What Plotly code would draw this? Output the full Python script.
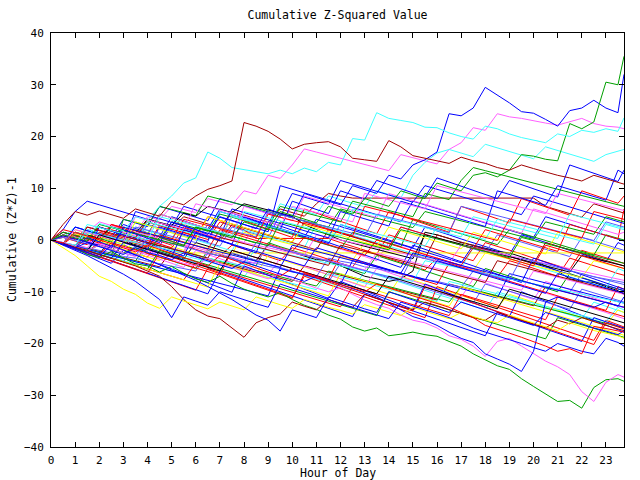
import plotly.graph_objects as go

# ---------------- data (values read/estimated from the reference) ----------------
TITLE = "Cumulative Z-Squared Value"
X_LABEL = "Hour of Day"
Y_LABEL = "Cumulative (Z*Z)-1"
X_TICKS = list(range(24))
Y_TICKS = [-40, -30, -20, -10, 0, 10, 20, 30, 40]

RED, GREEN, BLUE, MAGENTA, CYAN = "#ff0000", "#00a000", "#0000ff", "#ff60ff", "#40ffff"
YELLOW, BLACK, DARKRED, MBLUE = "#ffff00", "#000000", "#a00000", "#5a5aff"

# every series: half-hour samples from 0:00 to 23:30 plus final 23:45
blue_top = [0,-0.8,-1.5,0.5,-0.3,-1.2,2.0,1.2,0.4,-0.5,3.5,2.8,
            2.0,1.1,4.5,3.8,3.0,2.2,6.0,5.1,4.5,9.0,8.2,7.5,
            6.8,10.5,9.8,9.0,12.5,11.8,14.5,15.5,17.0,24.4,24.0,25.5,
            29.5,28.0,26.5,24.8,24.5,23.3,22.0,25.0,25.5,27.0,25.5,24.6,32.0]
green_top = [0,-0.7,-1.4,-2.0,-1.0,-1.8,-2.5,-1.5,-2.2,0.5,-0.3,-1.0,
             2.5,1.8,1.0,0.4,3.5,2.8,2.0,5.5,4.8,4.0,3.3,6.5,
             5.8,5.0,8.0,7.2,6.5,9.5,8.8,8.0,11.0,10.3,9.5,12.5,
             13.0,12.2,13.5,16.5,16.2,15.6,15.3,22.5,21.5,22.8,30.5,30.0,35.5]
cyan_top = [0,-0.6,1.5,0.8,3.2,2.5,1.8,4.5,3.8,6.5,8.5,11.0,
            12.0,17.0,15.8,14.0,13.6,13.2,12.8,13.5,12.8,13.9,13.2,15.0,
            14.5,19.6,19.3,24.6,23.5,23.1,22.7,21.8,21.7,20.7,20.0,19.5,
            22.0,21.5,20.5,19.8,19.3,18.8,20.5,20.0,21.2,20.8,21.5,21.0,23.6]
darkred_top = [0,3.0,5.5,4.8,5.6,4.9,4.2,6.0,5.3,4.6,7.5,6.8,
               8.5,9.8,10.5,11.4,22.7,22.0,21.0,19.5,17.6,18.5,18.8,19.0,
               18.0,15.8,15.5,15.2,19.2,18.0,16.3,15.8,15.3,14.8,16.0,15.3,
               14.8,14.0,13.5,14.5,13.8,13.1,12.5,12.0,11.4,12.5,11.8,11.2,10.8]
green_low = [0,-0.7,-1.5,-2.8,-3.4,-2.2,-3.5,-4.6,-5.0,-6.2,-5.1,-6.4,
             -7.5,-8.2,-7.0,-8.4,-9.5,-10.3,-11.0,-10.2,-11.5,-12.6,-13.4,-14.5,
             -15.3,-16.8,-17.6,-17.0,-18.5,-18.2,-17.8,-18.3,-18.6,-19.6,-20.5,-22.0,
             -23.2,-24.3,-25.0,-26.8,-28.3,-29.8,-31.2,-31.0,-32.5,-28.5,-27.0,-26.8,-27.3]
magenta_low = [0,-0.5,-1.3,-2.0,-1.0,-1.8,-2.5,-3.2,-2.0,-3.0,-3.8,-4.5,
               -5.0,-3.5,-4.5,-5.3,-6.0,-6.8,-7.5,-6.5,-7.6,-8.5,-9.3,-10.0,
               -9.2,-10.5,-11.6,-12.5,-13.2,-14.5,-15.5,-16.0,-17.0,-18.5,-19.2,-20.5,
               -22.5,-19.6,-19.0,-20.5,-22.0,-23.4,-24.5,-26.0,-29.3,-31.2,-27.5,-26.0,-26.5]
blue_low = [0,-0.8,-1.5,-0.5,-1.3,-2.0,-2.8,-1.5,-2.4,-3.0,-3.8,-2.5,
            -3.3,-4.0,-4.8,-5.5,-4.2,-5.0,-5.8,-6.6,-7.2,-8.0,-7.0,-7.8,
            -8.6,-9.5,-10.3,-11.0,-12.2,-13.5,-14.8,-15.5,-16.5,-17.8,-19.0,-19.8,
            -22.0,-23.0,-24.0,-25.4,-21.5,-12.0,-11.0,-11.8,-12.4,-13.0,-12.0,-12.8,-11.0]
darkred_low = [0,-0.6,-1.4,-2.0,-2.8,-3.5,-4.3,-5.0,-6.0,-7.0,-9.0,-11.5,
               -13.5,-14.7,-15.2,-17.0,-18.8,-16.0,-15.0,-14.3,-12.0,-12.8,-13.5,-11.5,
               -12.2,-13.0,-10.5,-11.3,-12.0,-12.8,-13.5,-12.0,-12.7,-13.5,-14.2,-15.0,
               -15.5,-14.0,-14.8,-15.5,-16.3,-17.0,-15.5,-16.2,-15.0,-15.8,-16.5,-17.2,-17.5]
yellow_low = [0,-1.5,-3.0,-5.0,-7.0,-8.0,-9.5,-10.5,-12.2,-13.2,-11.0,-11.8,
              -12.5,-13.3,-12.0,-12.8,-13.5,-11.0,-11.8,-12.5,-13.2,-11.5,-12.2,-13.0,
              -13.6,-14.3,-12.5,-13.2,-14.0,-14.6,-13.0,-13.8,-14.5,-15.2,-14.0,-14.8,
              -15.5,-16.0,-14.5,-15.3,-16.0,-16.8,-17.5,-16.0,-16.8,-17.5,-18.0,-18.5,-19.0]
blue_low2 = [0,-1.0,-2.0,-3.0,-4.2,-5.4,-6.6,-8.0,-9.8,-11.5,-15.0,-11.0,
             -11.8,-12.6,-10.0,-10.8,-11.5,-12.3,-13.0,-8.5,-9.3,-10.0,-10.8,-11.5,
             -12.3,-13.0,-13.8,-14.5,-15.2,-12.0,-12.8,-13.5,-14.2,-15.0,-16.0,-17.0,
             -17.8,-18.5,-19.3,-20.0,-20.8,-21.5,-20.0,-20.8,-21.5,-22.0,-19.0,-19.8,-20.5]
blue_low3 = [0,-0.7,-1.6,-2.4,-3.2,-1.0,-1.9,-2.8,-3.8,-4.8,-5.8,-6.8,
             -7.8,-9.0,-10.2,-11.5,-13.0,-14.5,-15.5,-17.6,-13.5,-14.2,-15.0,-11.0,
             -11.8,-12.5,-13.3,-14.0,-10.0,-10.8,-11.6,-12.4,-13.2,-14.0,-12.0,-12.8,
             -13.5,-14.3,-15.0,-15.8,-16.5,-14.0,-14.8,-15.5,-16.2,-17.0,-17.6,-18.3,-17.5]
red_low = [0,-0.6,1.5,0.8,0.1,-0.7,-1.5,-2.3,-1.0,-1.8,-2.6,-3.4,
           -4.2,-5.0,-3.0,-3.8,-4.6,-5.4,-6.2,-7.0,-5.5,-6.3,-7.1,-7.9,
           -8.6,-9.3,-10.0,-8.5,-9.2,-10.0,-10.8,-11.5,-12.3,-13.0,-14.0,-15.0,
           -16.5,-17.2,-18.0,-18.8,-19.6,-20.5,-21.5,-21.0,-22.0,-16.7,-17.1,-17.6,-17.8]

f01 = [0,-0.8,-1.5,-2.2,-0.5,-1.2,-2.0,-2.6,-3.3,0.5,-0.3,-1.0,
       -1.8,-2.5,-3.1,-1.0,-1.7,-2.5,-3.2,-4.0,-1.5,-2.2,-3.0,-3.8,
       -4.5,-5.2,-2.0,-2.8,-3.6,-4.3,-5.0,-5.8,-3.5,-4.2,-5.0,-5.7,
       -6.4,-7.2,-4.0,-4.7,-5.5,-6.2,-7.0,-3.5,-4.2,-5.0,-5.7,-6.5,-6.8]
f02 = [0,1.5,0.8,0.1,2.5,1.8,1.0,0.3,-0.4,-1.2,3.0,2.3,
       1.5,0.8,0.0,-0.8,4.5,3.7,3.0,2.2,1.5,0.7,0.0,-0.7,
       3.0,2.2,1.5,0.8,0.0,-0.8,-1.5,2.5,1.8,1.0,0.2,-0.5,
       -1.2,-2.0,-2.8,1.0,0.3,-0.5,-1.2,-2.0,-2.7,-3.5,-4.2,-0.5,-1.0]
f03 = [0,-0.6,-1.3,-2.0,-2.8,-3.5,-1.0,-1.8,-2.5,-3.3,-4.0,-4.7,
       -5.5,-2.0,-2.8,-3.5,-4.3,-5.0,-0.5,-1.3,-2.0,-2.8,-3.5,-4.2,
       -5.0,-5.8,-6.5,-3.0,-3.8,-4.5,-5.2,-6.0,-6.8,-7.5,-8.2,-9.0,
       -5.5,-6.2,-7.0,-7.8,-8.5,-9.2,-10.0,-6.5,-7.2,-8.0,-8.8,-9.5,-9.8]
f04 = [0,-0.7,0.8,0.1,-0.6,-1.3,1.5,0.8,0.0,-0.7,-1.5,-2.2,
       2.5,1.8,1.0,0.3,-0.5,3.5,2.8,2.0,1.2,0.5,-0.3,-1.0,
       -1.8,-2.5,-3.2,-4.0,-0.5,-1.3,-2.0,-2.8,-3.5,-4.3,-5.0,-5.8,
       -6.5,-7.2,-8.0,-8.7,-9.5,-10.2,-11.0,-11.8,-12.5,-13.2,-14.0,-14.8,-15.2]
f05 = [0,-0.5,-1.2,-1.9,-2.6,-3.3,-4.0,-4.7,-1.5,-2.2,-3.0,-3.7,
       -4.4,-5.1,-5.8,-6.5,-7.2,-4.0,-4.7,-5.4,-6.1,-6.8,-7.5,-8.2,
       -9.0,-9.7,-6.0,-6.8,-7.5,-8.2,-9.0,-9.7,-10.5,-11.2,-12.0,-12.7,
       -13.5,-10.0,-10.7,-11.5,-12.2,-13.0,-13.7,-14.5,-15.2,-12.0,-12.8,-13.5,-14.0]
f06 = [0,-0.8,-1.6,0.5,-0.2,-1.0,-1.8,-2.6,-3.3,-4.0,-1.2,-2.0,
       -2.8,-3.5,-4.2,-5.0,-5.8,-6.5,-3.0,-3.8,-4.5,-5.2,-6.0,-6.8,
       -7.5,-8.2,-9.0,-9.8,-10.5,-7.0,-7.8,-8.5,-9.2,-10.0,-10.8,-11.5,
       -12.2,-13.0,-10.5,-11.2,-12.0,-12.8,-13.5,-14.2,-15.0,-15.8,-16.5,-13.5,-14.0]
f07 = [0,-0.6,-1.2,2.0,1.3,0.6,-0.1,-0.8,3.0,2.3,1.6,0.9,
       0.2,-0.5,-1.2,2.5,1.8,1.1,0.4,5.0,4.3,3.6,2.9,2.2,
       1.5,0.8,0.1,-0.6,-1.3,2.5,1.8,1.1,0.4,-0.3,-1.0,-1.7,
       -2.4,1.0,0.3,-0.4,-1.1,-1.8,-2.5,-3.2,0.5,-0.2,-0.9,-1.6,-2.0]
f08 = [0,-0.5,-1.0,-1.6,-2.2,-2.8,-3.4,-4.0,-4.6,-5.2,-2.0,-2.6,
       -3.2,-3.8,-4.4,-5.0,-5.6,-6.2,-6.8,-7.4,-8.0,-5.0,-5.6,-6.2,
       -6.8,-7.4,-8.0,-8.6,-9.2,-9.8,-10.4,-11.0,-11.6,-8.5,-9.1,-9.7,
       -10.3,-10.9,-11.5,-12.1,-12.7,-9.0,-9.6,-10.2,-10.8,-11.4,-12.0,-12.6,-13.0]
f09 = [0,-0.7,-1.4,-2.1,-2.8,0.5,-0.2,-0.9,-1.6,-2.3,-3.0,-3.7,
       -0.5,-1.2,-1.9,-2.6,-3.3,-4.0,-1.0,-1.7,-2.4,-3.1,-3.8,-3.9,
       -5.0,-6.0,-7.0,-7.5,-8.0,-7.5,-6.0,1.5,1.0,0.3,-0.5,-1.0,
       -1.6,-2.2,-2.5,-3.2,-4.0,-5.0,-6.0,-7.5,-8.0,-8.2,-9.0,-9.8,-10.5]
f10 = [0,1.0,0.3,-0.4,-1.1,2.0,1.3,0.6,-0.1,-0.8,-1.5,1.5,
       0.8,0.1,3.5,2.8,2.0,0.3,0.3,0.3,0.3,0.3,0.3,0.3,
       -0.5,-1.2,-2.0,-2.7,1.0,0.3,-0.4,-1.1,-1.8,-2.5,-3.2,-4.0,
       -0.5,-1.2,-2.0,-2.7,-3.5,-4.2,-5.0,-5.7,-2.0,-2.7,-3.4,-4.1,-4.5]
f11 = [0,1.5,0.8,0.2,2.5,1.8,1.2,0.5,3.5,2.8,2.1,4.5,
       3.8,3.1,2.4,5.5,4.8,4.1,3.4,6.0,5.3,4.6,7.0,9.0,
       8.5,8.1,8.1,8.1,8.1,8.1,8.1,8.1,8.1,8.1,8.1,8.1,
       8.1,8.1,8.1,8.1,8.1,6.5,5.8,5.1,4.4,7.0,6.3,5.6,5.2]
f12 = [0,-0.8,-1.5,0.5,-0.3,-1.0,-1.8,-0.5,-1.3,-2.0,-2.5,-2.5,
       -2.5,-2.5,-2.5,-2.5,-2.5,-2.5,-2.5,-2.5,-2.5,-2.5,-2.5,-2.5,
       -2.5,-2.5,-2.5,-2.5,-2.5,-2.5,-2.5,-2.5,-2.5,-2.5,-2.5,-2.5,
       -2.5,-2.5,-2.5,-2.5,-2.5,-2.5,-2.5,-2.5,-2.5,-2.5,-2.5,-2.5,-2.5]
f13 = [0,-0.7,-1.4,-2.1,1.0,0.3,-0.4,-1.1,-1.8,2.5,1.8,1.1,
       0.4,-0.3,5.5,4.8,4.1,3.4,2.7,2.0,1.3,0.6,4.0,3.3,
       2.6,1.9,1.2,0.5,-0.2,-0.9,-1.6,-2.3,-3.0,-3.7,-4.4,-1.0,
       -1.7,-2.4,-3.1,-3.8,-4.5,-5.2,-5.9,-6.6,-7.3,-8.0,-8.7,-9.4,-9.8]
f14 = [0,2.0,5.5,7.5,6.8,6.1,5.4,4.7,4.0,3.3,2.6,6.5,
       5.8,5.1,4.4,3.7,3.0,2.3,1.6,10.5,9.8,9.1,8.4,7.7,
       7.0,6.3,5.6,4.9,4.2,3.5,7.5,6.8,6.1,5.4,4.7,4.0,
       3.3,2.6,1.9,1.2,0.5,4.5,3.8,3.1,2.4,1.7,1.0,0.3,-0.2]
f15 = [0,-0.5,-1.1,-1.7,-2.3,-2.9,-3.5,-4.1,-0.5,-1.1,-1.7,-2.3,
       -2.9,-3.5,-4.1,-4.7,-5.3,-5.9,-6.5,-7.1,-7.7,-8.3,-8.9,-6.0,
       -6.6,-7.2,-7.8,-8.4,-9.0,-9.6,-10.2,-10.8,-11.4,-12.0,-9.0,-9.6,
       -10.2,-10.8,-11.4,-12.0,-12.6,-13.2,-13.8,-14.4,-15.0,-15.6,-16.2,-16.8,-17.0]
f16 = [0,-0.9,-1.7,-2.5,-3.3,-4.1,-4.9,-5.7,-6.5,-7.3,-8.1,-8.9,
       -9.7,-5.5,-6.3,-7.1,-7.9,-8.7,-9.5,-10.3,-11.1,-7.0,-7.8,-8.6,
       -9.4,-10.2,-11.0,-11.8,-12.6,-13.4,-14.2,-15.0,-9.0,-9.8,-10.6,-11.4,
       -12.2,-13.0,-13.8,-14.6,-15.4,-16.2,-17.0,-17.8,-18.6,-19.4,-15.5,-16.3,-16.8]
f17 = [0,0.5,2.5,1.8,1.1,0.4,-0.3,3.5,2.8,2.1,1.4,0.7,
       0.0,-0.7,-1.4,-2.1,2.0,1.3,0.6,-0.1,-0.8,-1.5,3.0,2.3,
       1.6,0.9,0.2,-0.5,-1.2,-1.9,-2.6,-3.3,-4.0,-4.7,-5.4,-1.5,
       -2.2,-2.9,-3.6,-4.3,-5.0,-5.7,-6.4,-7.1,-7.8,-8.5,-9.2,-5.5,-6.0]
f18 = [0,-0.6,-1.2,1.5,0.9,3.0,2.4,1.8,4.5,3.9,6.5,5.9,
       5.3,8.0,7.4,6.8,9.5,8.9,12.5,11.9,14.5,17.6,17.0,16.4,
       15.8,15.2,14.6,14.0,13.4,16.5,15.9,15.3,14.7,17.5,18.8,21.7,
       21.2,24.4,23.8,23.5,23.0,22.6,22.2,22.8,23.5,22.5,22.0,21.8,21.5]
f19 = [0,-0.7,-1.4,-2.1,0.5,-0.2,-0.9,2.5,1.8,1.1,0.4,3.5,
       2.8,2.1,5.5,4.8,4.1,3.4,2.7,7.0,6.3,5.6,4.9,8.5,
       7.8,7.1,6.4,9.5,8.8,8.1,12.5,15.0,16.8,17.5,16.8,16.1,
       18.5,17.8,17.1,16.4,15.7,18.0,17.3,16.6,15.9,15.2,16.5,17.2,17.5]
f20 = [0,-0.8,-1.6,1.5,0.7,-0.1,3.0,2.2,1.4,0.6,4.5,3.7,
       2.9,2.1,6.0,5.2,4.4,3.6,2.8,2.0,7.5,6.7,5.9,5.1,
       9.5,8.7,7.9,11.5,10.7,9.9,9.1,8.3,12.0,11.2,10.4,9.6,
       8.8,8.0,11.5,10.7,9.9,9.1,8.3,14.5,13.7,12.9,12.1,11.3,13.5]
f21 = [0,-0.6,-1.3,1.0,0.3,-0.4,2.5,1.8,1.1,5.0,4.3,3.6,
       2.9,2.2,1.5,0.8,0.1,-0.6,2.5,1.8,1.1,0.4,-0.3,-1.0,
       -1.7,1.5,0.8,0.1,-0.6,-1.3,4.0,3.3,2.6,1.9,1.2,0.5,
       -0.2,-0.9,2.0,1.3,0.6,-0.1,-0.8,-1.5,-2.2,-2.9,1.0,0.3,0.0]
f22 = [0,-0.8,-1.6,-2.4,-3.2,-0.5,-1.3,-2.1,-2.9,-3.7,-4.5,-5.3,
       -2.0,-2.8,-3.6,-4.4,-5.2,-6.0,-6.8,-3.5,-4.3,-5.1,-5.9,-6.7,
       -7.5,-8.3,-9.1,-5.5,-6.3,-7.1,-7.9,-8.7,-9.5,-10.3,-11.1,-7.5,
       -8.3,-9.1,-9.9,-10.7,-11.5,-8.0,-8.8,-9.6,-10.4,-11.2,-12.0,-12.8,-13.0]
f23 = [0,0.8,0.1,2.5,1.8,1.1,0.4,-0.3,-1.0,2.8,2.1,1.4,
       0.7,4.5,3.8,3.1,2.4,1.7,1.0,0.3,-0.4,3.5,2.8,2.1,
       1.4,0.7,0.0,-0.7,-1.4,2.5,1.8,1.1,0.4,-0.3,-1.0,-1.7,
       2.0,1.3,0.6,-0.1,-0.8,-1.5,-2.2,3.0,2.3,1.6,0.9,0.2,6.0]
f24 = [0,-0.9,-1.8,-2.7,-3.6,-4.5,-2.0,-2.9,-3.8,-4.7,-5.6,-6.5,
       -7.4,-8.3,-9.2,-10.1,-5.0,-5.9,-6.8,-7.7,-8.6,-9.5,-10.4,-11.3,
       -8.0,-8.9,-9.8,-10.7,-11.6,-12.5,-13.4,-8.5,-9.4,-10.3,-11.2,-12.1,
       -13.0,-13.9,-14.8,-10.0,-10.9,-11.8,-12.7,-13.6,-14.5,-15.4,-16.3,-17.2,-17.8]
f25 = [0,-0.5,-1.1,-1.5,-2.1,-2.5,-3.2,-3.5,-4.1,-4.6,-5.0,-5.6,
       -6.0,-2.5,-3.1,-3.5,-4.2,-4.5,-5.1,-5.5,-6.2,-6.5,-7.1,-3.5,
       -4.1,-4.5,-5.2,-5.5,-6.1,-6.6,-7.0,-7.6,-8.0,-8.5,-9.1,-6.0,
       -6.6,-7.0,-7.5,-8.1,-8.5,-9.2,-9.5,-10.1,-6.5,-7.1,-7.5,-8.0,-8.2]
f26 = [0,-0.6,1.2,0.6,0.0,-0.6,-1.2,2.0,1.4,0.8,0.2,-0.4,
       -1.0,-1.6,-2.2,-2.8,1.5,0.9,0.3,-0.3,-0.9,-1.5,-2.1,-2.7,
       -3.3,-3.9,-0.5,-1.1,-1.7,-2.3,-2.9,-3.5,-4.1,-4.7,-5.3,-5.9,
       -2.5,-3.1,-3.7,-4.3,-4.9,-5.5,-6.1,-6.7,-7.3,-4.0,-4.6,-5.2,-5.5]
f27 = [0,1.0,0.3,-0.4,2.5,1.8,1.1,0.4,4.0,3.3,2.6,1.9,
       1.2,0.5,-0.2,3.0,2.3,1.6,0.9,0.2,-0.5,-1.2,-1.9,2.0,
       1.3,0.6,-0.1,-0.8,-1.5,-2.2,-2.9,-3.6,1.0,0.3,-0.4,-1.1,
       -1.8,-2.5,-3.2,-3.9,-4.6,-0.5,-1.2,-1.9,-2.6,-3.3,-4.0,-4.7,-5.0]
f28 = [0,-0.7,2.5,1.8,1.1,0.4,4.0,3.3,2.6,6.5,5.8,5.1,
       4.4,3.7,8.0,7.3,6.6,5.9,5.2,4.5,9.0,8.3,7.6,6.9,
       11.5,10.8,10.1,9.4,8.7,8.0,7.3,10.5,9.8,9.1,8.4,7.7,
       7.0,6.3,5.6,4.9,8.5,7.8,7.1,6.4,5.7,5.0,4.3,3.6,3.2]
f29 = [0,-0.6,-1.2,-1.8,-2.4,-3.0,4.0,3.4,2.8,6.5,5.9,5.3,
       4.7,8.5,7.9,7.3,6.7,6.1,5.5,4.9,4.3,3.7,3.1,2.5,
       6.0,5.4,4.8,4.2,3.6,3.0,2.4,5.5,4.9,4.3,3.7,3.1,
       2.5,1.9,1.3,0.7,0.1,3.5,2.9,2.3,1.7,1.1,4.5,3.9,3.5]
f30 = [0,-0.7,-1.4,1.5,3.5,2.8,2.1,1.4,0.7,5.0,4.3,3.6,
       2.9,2.2,1.5,0.8,6.5,5.8,5.1,4.4,3.7,8.5,7.8,7.1,
       6.4,5.7,5.0,4.3,9.0,8.3,7.6,6.9,6.2,5.5,4.8,4.1,
       3.4,2.7,2.0,1.3,6.0,5.3,4.6,3.9,3.2,2.5,1.8,1.1,1.5]
f31 = [0,-0.6,-1.2,-1.8,-2.4,-3.0,-3.6,-4.2,-4.8,-5.4,-6.0,-3.0,
       -3.6,-4.2,-4.8,-5.4,-6.0,-6.6,-7.2,-7.8,-8.4,-9.0,-9.6,-6.5,
       -7.1,-7.7,-8.3,-8.9,-9.5,-10.1,-10.7,-11.3,-11.9,-8.0,-8.6,-9.2,
       -9.8,-10.4,-11.0,-11.6,-12.2,-12.8,-13.4,-14.0,-14.6,-15.2,-15.8,-13.0,-13.5]
f32 = [0,-0.8,1.0,0.2,-0.6,3.0,2.2,1.4,0.6,-0.2,-1.0,2.5,
       1.7,0.9,0.1,4.5,3.7,2.9,2.1,1.3,0.5,6.0,5.2,4.4,
       3.6,2.8,2.0,1.2,5.5,4.7,3.9,3.1,2.3,1.5,6.5,5.7,
       4.9,4.1,3.3,8.0,7.2,6.4,5.6,4.8,9.5,8.7,7.9,7.1,8.5]
f33 = [0,-0.6,1.5,0.9,0.3,2.5,1.9,1.3,4.0,3.4,2.8,5.2,
       4.6,6.5,5.9,5.3,7.0,6.4,5.8,5.2,4.6,3.0,2.0,1.0,
       0.0,-0.6,-1.2,-1.8,-2.4,-3.0,-3.6,1.0,0.4,-0.2,-0.8,-1.4,
       -2.0,-2.6,-3.2,-3.8,-4.4,-5.0,-5.6,-6.2,-3.0,-3.6,-4.2,-4.8,-5.0]
f34 = [0,-0.7,-1.4,-2.1,-2.8,-3.5,-4.2,-1.0,-1.7,-2.4,-3.1,-3.8,
       -4.5,-5.2,-5.9,-2.5,-3.2,-3.9,-4.6,-5.3,-6.0,-6.7,-7.4,-8.1,
       -4.5,-5.2,-5.9,-6.6,-7.3,-8.0,-8.7,-9.4,-10.1,-10.8,-11.5,-12.2,
       -8.5,-9.2,-9.9,-10.6,-11.3,-12.0,-12.7,-13.4,-9.5,-10.2,-10.9,-11.6,-12.0]
f35 = [0,-0.8,-1.6,-2.4,-3.2,-4.0,-4.8,-5.6,-6.4,-7.2,-8.0,-8.8,
       -9.6,-10.4,-6.0,-6.8,-7.6,-8.4,-9.2,-10.0,-10.8,-11.6,-12.4,-13.2,
       -14.0,-14.8,-10.5,-11.3,-12.1,-12.9,-13.7,-14.5,-15.3,-16.1,-16.9,-17.7,
       -18.5,-14.0,-14.8,-15.6,-16.4,-17.2,-18.0,-18.8,-19.6,-15.0,-15.8,-16.6,-17.0]
f36 = [0,-0.7,-1.4,-2.1,-2.8,-0.5,-1.2,-1.9,-2.6,-3.3,-4.0,-4.7,
       -5.4,-6.1,-6.8,-2.0,-2.7,-3.4,-4.1,-4.8,-5.5,-6.2,-6.9,-7.6,
       -3.0,-3.7,-4.4,-5.1,-5.8,-6.5,-7.2,-7.9,-8.6,-4.5,-5.2,-5.9,
       -6.6,-7.3,-8.0,-8.7,-9.4,-10.1,-10.8,-11.5,-12.2,-12.9,-13.6,-9.0,-9.5]
f37 = [0,1.5,0.9,0.3,-0.3,2.5,1.9,1.3,0.7,0.1,3.5,2.9,
       2.3,1.7,5.0,4.4,3.8,3.2,2.6,6.5,5.9,5.3,4.7,4.1,
       3.5,7.5,6.9,6.3,5.7,5.1,4.5,9.0,8.4,7.8,11.5,14.0,
       13.4,12.8,12.2,11.6,11.0,10.4,9.8,9.2,8.6,8.0,7.4,6.8,6.5]
f38 = [0,-0.7,2.0,1.3,0.6,-0.1,-0.8,3.5,2.8,2.1,1.4,0.7,
       0.0,4.5,3.8,3.1,2.4,1.7,1.0,0.3,-0.4,3.0,2.3,1.6,
       0.9,0.2,-0.5,-1.2,2.5,1.8,1.1,0.4,-0.3,-1.0,-1.7,1.5,
       0.8,0.1,-0.6,-1.3,-2.0,-2.7,1.5,0.8,0.1,-0.6,-1.3,-2.0,-2.3]
f39 = [0,-0.5,-1.0,-1.5,1.0,0.5,0.0,-0.5,-1.0,-1.5,-2.0,-2.5,
       1.5,1.0,0.5,0.0,-0.5,-1.0,-1.5,-2.0,-2.5,-3.0,1.0,0.5,
       0.0,-0.5,-1.0,-1.5,-2.0,-2.5,-3.0,-3.5,-4.0,-4.5,-1.0,-1.5,
       -2.0,-2.5,-3.0,-3.5,-4.0,-4.5,-5.0,-5.5,-6.0,-6.5,-7.0,-7.5,-7.8]
f40 = [0,-0.6,-1.2,2.0,1.4,0.8,0.2,-0.4,3.5,2.9,2.3,1.7,
       1.1,0.5,-0.1,4.5,3.9,3.3,2.7,2.1,1.5,0.9,0.3,-0.3,
       3.0,2.4,1.8,1.2,0.6,0.0,-0.6,-1.2,2.5,1.9,1.3,0.7,
       0.1,4.0,3.4,2.8,2.2,1.6,1.0,0.4,-0.2,-0.8,3.0,2.4,2.0]
f41 = [0,-0.8,-1.6,-2.4,2.5,1.7,0.9,0.1,-0.7,-1.5,-2.3,-3.1,
       1.5,0.7,-0.1,-0.9,-1.7,-2.5,3.5,2.7,1.9,1.1,0.3,-0.5,
       -1.3,-2.1,-2.9,-3.7,-4.5,-5.3,-1.0,-1.8,-2.6,-3.4,-4.2,-5.0,
       -5.8,-6.6,-7.4,-8.2,-3.5,-4.3,-5.1,-5.9,-6.7,-7.5,-8.3,-9.1,-9.5]
f42 = [0,-0.7,-1.4,-2.1,-2.8,-3.5,-4.2,-4.9,-5.6,-6.3,-7.0,-7.7,
       -4.5,-5.2,-5.9,-6.6,-7.3,-8.0,-8.7,-9.4,-10.1,-10.8,-11.5,-12.2,
       -12.9,-9.0,-9.7,-10.4,-11.1,-11.8,-12.5,-13.2,-13.9,-14.6,-10.5,-11.2,
       -11.9,-12.6,-13.3,-14.0,-14.7,-15.4,-11.0,-11.7,-12.4,-13.1,-13.8,-14.5,-14.8]
f43 = [0,-0.7,2.5,1.8,1.1,0.4,-0.3,5.5,4.8,4.1,3.4,2.7,
       2.0,1.3,0.6,6.0,5.3,4.6,3.9,3.2,2.5,1.8,1.1,0.4,
       5.5,4.8,4.1,3.4,2.7,7.5,6.8,6.1,5.4,4.7,4.0,3.3,
       2.6,9.5,8.8,8.1,7.4,6.7,10.5,9.8,9.1,8.4,7.7,13.5,12.8]
f44 = [0,-0.6,-1.2,1.5,0.9,0.3,-0.3,2.5,1.9,1.3,0.7,0.1,
       -0.5,3.0,2.4,1.8,1.2,0.6,5.5,4.9,4.3,3.7,3.1,2.5,
       1.9,1.3,0.7,5.0,4.4,3.8,3.2,2.6,2.0,1.4,6.5,5.9,
       5.3,4.7,4.1,3.5,2.9,2.3,1.7,1.1,0.5,-0.1,3.5,2.9,2.5]
f45 = [0,0.5,-0.2,-0.9,1.5,0.8,0.1,-0.6,-1.3,1.0,0.3,-0.4,
       -1.1,-1.8,2.0,1.3,0.6,-0.1,-0.8,-1.5,-2.2,0.5,-0.2,-0.9,
       -1.6,-2.3,-3.0,0.0,-0.7,-1.4,-2.1,-2.8,-3.5,-4.2,-4.9,-1.5,
       -2.2,-2.9,-3.6,-4.3,-5.0,-1.0,-1.7,-2.4,-3.1,-3.8,-4.5,-5.2,-5.5]
f46 = [0,-0.6,-1.2,-1.8,-2.4,-3.0,-3.6,-4.2,-4.8,-5.4,-6.0,-6.6,
       -7.2,-7.8,-8.4,-9.0,-9.6,-10.2,-10.8,-5.5,-6.1,-6.7,-7.3,-7.9,
       -8.5,-4.0,-4.6,-5.2,-5.8,-6.4,-7.0,-7.6,-8.2,-8.8,-9.4,-10.0,
       -10.6,-11.2,-6.5,-7.1,-7.7,-8.3,-8.9,-9.5,-10.1,-10.7,-11.3,-11.9,-12.2]
f47 = [0,1.0,0.4,-0.2,-0.8,-1.4,-2.0,1.5,0.9,0.3,-0.3,-0.9,
       -1.5,-2.1,-2.7,-3.3,-3.9,-4.5,-1.0,-1.6,-2.2,-2.8,-3.4,-4.0,
       -4.6,-5.2,-5.8,-2.5,-3.1,-3.7,-4.3,-4.9,-5.5,-6.1,-6.7,-7.3,
       -7.9,-8.5,-9.1,-9.7,-6.0,-6.6,-7.2,-7.8,-8.4,-9.0,-9.6,-10.2,-10.5]
f48 = [0,-0.7,-1.4,-2.1,-2.8,-3.5,-4.2,-4.9,-5.6,-2.0,-2.7,-3.4,
       -4.1,-4.8,-5.5,-6.2,-6.9,-7.6,-8.3,-9.0,-9.7,-10.4,-11.1,-11.8,
       -12.5,-13.2,-13.9,-14.6,-10.0,-10.7,-11.4,-12.1,-12.8,-13.5,-14.2,-14.9,
       -15.6,-16.3,-17.0,-17.7,-18.4,-19.1,-15.0,-15.7,-16.4,-17.1,-17.8,-18.5,-18.8]
f49 = [0,-0.5,-1.0,1.5,1.0,0.5,0.0,-0.5,-1.0,-1.5,-2.0,-2.5,
       -3.0,-3.5,-4.0,-4.5,-5.0,-1.5,-2.0,-2.5,-3.0,-3.5,-4.0,-4.5,
       -5.0,-5.5,-6.0,-6.5,-7.0,-7.5,-8.0,-4.0,-4.5,-5.0,-5.5,-6.0,
       -6.5,-7.0,-7.5,-8.0,-8.5,-9.0,-9.5,-10.0,-10.5,-11.0,-11.5,-12.0,-12.2]
f50 = [0,-0.7,-1.4,-2.1,-2.8,-3.5,-4.2,-4.9,-5.6,-6.3,-7.0,-7.7,
       -8.4,-9.1,-4.5,-5.2,-5.9,-6.6,-7.3,-8.0,-8.7,-9.4,-10.1,-10.8,
       -6.5,-7.2,-7.9,-8.6,-9.3,-10.0,-10.7,-11.4,-12.1,-12.8,-9.0,-9.7,
       -10.4,-11.1,-11.8,-12.5,-13.2,-13.9,-14.6,-15.3,-16.0,-16.7,-17.4,-18.1,-18.4]
f51 = [0,-0.6,-1.2,2.5,1.9,1.3,0.7,0.1,-0.5,-1.1,-1.7,-2.3,
       -2.9,-3.5,0.5,-0.1,-0.7,-1.3,-1.9,-2.5,-3.1,-3.7,-4.3,-4.9,
       -1.0,-1.6,-2.2,-2.8,-3.4,-4.0,-4.6,-5.2,-5.8,-6.4,-7.0,-7.6,
       -8.2,-4.0,-4.6,-5.2,-5.8,-6.4,-7.0,-7.6,-8.2,-8.8,-9.4,-10.0,-10.3]
f52 = [0,0.5,-0.1,-0.7,-1.3,-1.9,-2.5,-3.1,0.5,-0.1,-0.7,-1.3,
       -1.9,-2.5,-3.1,-3.7,-4.3,-0.5,-1.1,-1.7,-2.3,-2.9,-3.5,-4.1,
       -4.7,-5.3,-5.9,-6.5,-7.1,-7.7,-3.0,-3.6,-4.2,-4.8,-5.4,-6.0,
       -6.6,-7.2,-7.8,-3.5,-4.1,-4.7,-5.3,-5.9,-6.5,-7.1,-7.7,-8.3,-8.6]
f53 = [0,2.0,1.4,0.8,0.2,3.0,2.4,1.8,1.2,0.6,0.0,4.0,
       3.4,2.8,2.2,1.6,1.0,0.4,5.0,4.4,3.8,3.2,2.6,2.0,
       1.4,0.8,6.5,5.9,5.3,4.7,4.1,3.5,2.9,2.3,1.7,1.1,
       0.5,-0.1,4.0,3.4,2.8,2.2,1.6,1.0,0.4,5.5,4.9,4.3,4.0]
f54 = [0,-0.7,-1.4,-2.1,-2.8,-3.5,-0.5,-1.2,-1.9,-2.6,-3.3,2.0,
       1.3,0.6,-0.1,-0.8,-1.5,-2.2,-2.9,-3.6,-4.3,-5.0,-1.5,-2.2,
       -2.9,-3.6,-4.3,-5.0,-5.7,-6.4,-7.1,-7.8,-4.0,-4.7,-5.4,-6.1,
       -6.8,-7.5,-8.2,-8.9,-9.6,-10.3,-6.5,-7.2,-7.9,-8.6,-9.3,-10.0,-10.3]
f55 = [0,0.8,0.2,-0.4,-1.0,-1.6,2.5,1.9,1.3,0.7,0.1,-0.5,
       -1.1,-1.7,-2.3,-2.9,-3.5,-4.1,-4.7,-5.3,-1.0,-1.6,-2.2,-2.8,
       -3.4,-4.0,-4.6,-5.2,-5.8,-6.4,-2.5,-3.1,-3.7,-4.3,-4.9,-5.5,
       -6.1,-6.7,-7.3,-7.9,-8.5,-9.1,-9.7,-10.3,-10.9,-11.5,-12.1,-12.7,-13.0]
f56 = [0,-0.8,-1.6,-2.4,-3.2,-4.0,-4.8,-5.6,-6.4,-2.5,-3.3,-4.1,
       -4.9,-5.7,-6.5,-7.3,-8.1,-8.9,-9.7,-10.5,-11.3,-6.5,-7.3,-8.1,
       -8.9,-9.7,-10.5,-11.3,-12.1,-12.9,-13.7,-9.0,-9.8,-10.6,-11.4,-12.2,
       -13.0,-13.8,-14.6,-15.4,-16.2,-17.0,-17.8,-18.6,-19.4,-20.2,-16.0,-16.8,-17.2]
f57 = [0,1.0,0.4,-0.2,3.0,2.4,1.8,1.2,0.6,0.0,-0.6,-1.2,
       2.5,1.9,1.3,0.7,0.1,-0.5,-1.1,3.5,2.9,2.3,1.7,1.1,
       0.5,-0.1,-0.7,-1.3,-1.9,2.0,1.4,0.8,0.2,-0.4,-1.0,-1.6,
       -2.2,-2.8,-3.4,0.5,-0.1,-0.7,-1.3,-1.9,-2.5,-3.1,-3.7,-4.3,-4.5]
f58 = [0,-0.6,2.0,1.4,0.8,0.2,-0.4,4.5,3.9,3.3,2.7,2.1,
       7.0,6.4,5.8,5.2,4.6,4.0,3.4,2.8,6.5,5.9,5.3,4.7,
       4.1,3.5,9.0,8.4,7.8,7.2,6.6,6.0,10.5,9.9,9.3,8.7,
       8.1,7.5,6.9,6.3,5.7,5.1,9.0,8.4,7.8,7.2,6.6,6.0,5.7]
f59 = [0,-0.7,-1.4,-2.1,1.0,0.3,-0.4,-1.1,-1.8,-2.5,-3.2,-3.9,
       -4.6,-5.3,-6.0,-2.0,-2.7,-3.4,-4.1,-4.8,-5.5,-6.2,-6.9,-7.6,
       -8.3,-9.0,-9.7,-10.4,-7.0,-7.7,-8.4,-9.1,-9.8,-10.5,-11.2,-11.9,
       -12.6,-13.3,-9.5,-10.2,-10.9,-11.6,-12.3,-13.0,-13.7,-14.4,-15.1,-15.8,-16.0]
f60 = [0,-0.6,-1.2,3.0,2.4,1.8,1.2,0.6,0.0,4.5,3.9,3.3,
       2.7,2.1,1.5,0.9,5.5,4.9,4.3,3.7,3.1,2.5,1.9,1.3,
       0.7,6.0,5.4,4.8,4.2,3.6,3.0,2.4,1.8,1.2,0.6,4.5,
       3.9,3.3,2.7,2.1,1.5,0.9,0.3,5.0,4.4,3.8,3.2,2.6,2.3]

SERIES = [
    (f01, RED), (f02, BLUE), (f03, GREEN), (f04, MAGENTA), (f05, CYAN), (f06, YELLOW),
    (f07, MBLUE), (f08, DARKRED), (f09, BLACK), (f10, RED), (f11, DARKRED), (f12, YELLOW),
    (f13, BLUE), (f14, BLUE), (f15, GREEN), (f16, RED), (f17, CYAN), (f18, MAGENTA),
    (f19, CYAN), (f20, BLUE), (f21, GREEN), (f22, MAGENTA), (f23, RED), (f24, BLUE),
    (f25, MBLUE), (f26, YELLOW), (f27, DARKRED), (f28, BLUE), (f29, GREEN), (f30, MAGENTA),
    (f31, CYAN), (f32, RED), (f33, BLACK), (f34, MBLUE), (f35, BLUE), (f36, RED),
    (f37, GREEN), (f38, YELLOW), (f39, MAGENTA), (f40, CYAN), (f41, BLUE), (f42, RED),
    (f43, BLUE), (f44, MBLUE), (f45, RED), (f46, BLUE), (f47, MAGENTA), (f48, GREEN),
    (f49, CYAN), (f50, YELLOW), (f51, DARKRED), (f52, MBLUE), (f53, RED), (f54, BLUE),
    (f55, BLUE), (f56, RED), (f57, GREEN), (f58, MAGENTA), (f59, BLACK), (f60, CYAN),
    (blue_top, BLUE), (green_top, GREEN), (cyan_top, CYAN), (darkred_top, DARKRED),
    (green_low, GREEN), (magenta_low, MAGENTA), (blue_low, BLUE), (darkred_low, DARKRED),
    (yellow_low, YELLOW), (blue_low2, BLUE), (blue_low3, BLUE), (red_low, RED),
]

# ---------------- figure ----------------
FONT = "DejaVu Sans Mono"
fig = go.Figure()
for vals, col in SERIES:
    xs = [min(0.5 * i, 23.75) for i in range(len(vals))]
    fig.add_trace(go.Scatter(x=xs, y=vals, mode="lines",
                             line=dict(color=col, width=1), hoverinfo="skip"))

axis_common = dict(showgrid=False, zeroline=False, showline=True, linecolor="black",
                   linewidth=1, mirror="allticks", ticks="inside", ticklen=5,
                   tickcolor="black", tickwidth=1,
                   tickfont=dict(family=FONT, size=11, color="black"))
fig.update_xaxes(range=[0, 23.75], tickvals=X_TICKS, ticklabelstandoff=3, **axis_common)
fig.update_yaxes(range=[-40, 40], tickvals=Y_TICKS, ticklabelstandoff=4, **axis_common)

fig.update_layout(
    width=640, height=480,
    margin=dict(l=51, r=16, t=33, b=33),
    paper_bgcolor="white", plot_bgcolor="white",
    showlegend=False,
    hovermode=False,
    title=dict(text=TITLE, x=0.5, xref="paper", y=1 - 15 / 480, yref="container",
               xanchor="center", yanchor="middle",
               font=dict(family=FONT, size=11.5, color="black")),
    annotations=[
        dict(text=X_LABEL, xref="paper", yref="paper", x=0.5, y=-26 / 414,
             xanchor="center", yanchor="middle", showarrow=False,
             font=dict(family=FONT, size=11.5, color="black")),
        dict(text=Y_LABEL, xref="paper", yref="paper", x=-39 / 573, y=0.5,
             xanchor="center", yanchor="middle", textangle=-90, showarrow=False,
             font=dict(family=FONT, size=11.5, color="black")),
    ],
)

fig.write_html("out.html",
               config={"displayModeBar": False, "staticPlot": True},
               post_script="document.body.style.margin='0';document.body.style.padding='0';")
